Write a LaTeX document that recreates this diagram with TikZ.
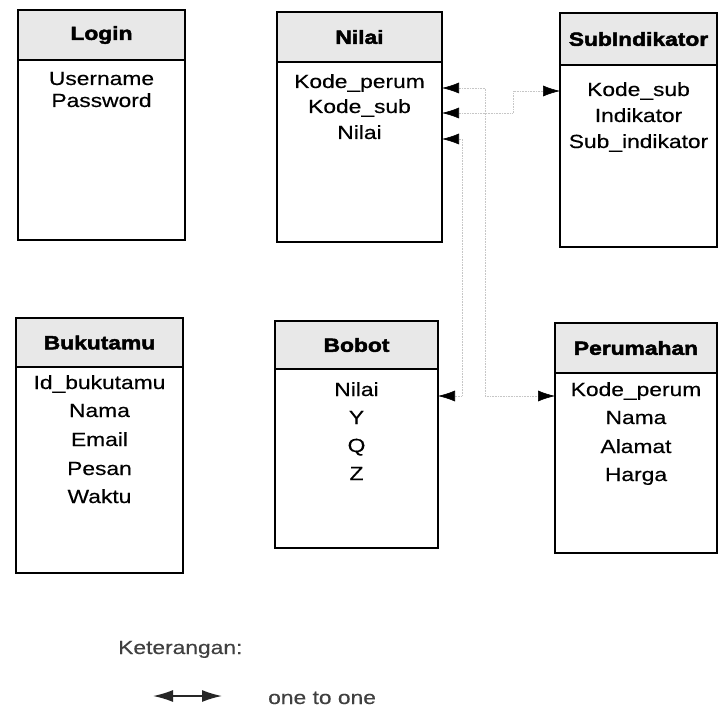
\documentclass[tikz,border=0pt]{standalone}
\usepackage{fontspec}
\setmainfont[FakeStretch=1.2, FakeBold=0.4, BoldFeatures={FakeBold=2.5}]{Liberation Sans}
\usetikzlibrary{arrows.meta}
\begin{document}
\begin{tikzpicture}[x=1pt,y=-1pt,
  every node/.style={font=\fontsize{19}{22}\selectfont},
  ent/.style={draw=black, line width=1.3pt, inner sep=0pt, outer sep=0pt, anchor=north west, fill=white},
  hdr/.style={draw=black, line width=1.3pt, fill=gray!18, inner sep=0pt, outer sep=0pt, anchor=north west, font=\fontsize{19}{22}\selectfont\bfseries},
  attr/.style={anchor=base, inner sep=0pt, outer sep=0pt},
  conn/.style={draw=gray!45, line width=0.6pt, densely dotted},
  tipA/.style={{Latex[length=17pt,width=11pt,color=black]}-{Latex[length=17pt,width=11pt,color=black]}},
  legtxt/.style={anchor=base west, inner sep=0pt, text=black!75}
]
\useasboundingbox (0,0) rectangle (719,708);
\fill[white] (0,0) rectangle (719,708);

% Login
\node[ent, minimum width=167pt, minimum height=230pt] (login) at (18,10) {};
\node[hdr, minimum width=167pt, minimum height=50pt] (loginH) at (18,10) {Login};
\node[attr] (lU) at (101.5,85) {Username};
\node[attr] (lP) at (101.5,107) {Password};

% Nilai
\node[ent, minimum width=165pt, minimum height=230pt] (nilai) at (277,12) {};
\node[hdr, minimum width=165pt, minimum height=50pt] (nilaiH) at (277,12) {Nilai};
\node[attr] (nKP) at (359.5,88) {Kode\_perum};
\node[attr] (nKS) at (359.5,113) {Kode\_sub};
\node[attr] (nN) at (359.5,139) {Nilai};

% SubIndikator
\node[ent, minimum width=157pt, minimum height=234pt] (sub) at (560,13) {};
\node[hdr, minimum width=157pt, minimum height=52pt] (subH) at (560,13) {SubIndikator};
\node[attr] (sKS) at (638.5,96) {Kode\_sub};
\node[attr] (sI) at (638.5,122) {Indikator};
\node[attr] (sSI) at (638.5,148) {Sub\_indikator};

% Bukutamu
\node[ent, minimum width=167pt, minimum height=255pt] (buku) at (16,318) {};
\node[hdr, minimum width=167pt, minimum height=49pt] (bukuH) at (16,318) {Bukutamu};
\node[attr] (bId) at (99.5,389) {Id\_bukutamu};
\node[attr] (bNa) at (99.5,417) {Nama};
\node[attr] (bEm) at (99.5,446) {Email};
\node[attr] (bPe) at (99.5,475) {Pesan};
\node[attr] (bWa) at (99.5,503) {Waktu};

% Bobot
\node[ent, minimum width=163pt, minimum height=227pt] (bobot) at (275,321) {};
\node[hdr, minimum width=163pt, minimum height=48pt] (bobotH) at (275,321) {Bobot};
\node[attr] (oN) at (356.5,396) {Nilai};
\node[attr] (oY) at (356.5,424) {Y};
\node[attr] (oQ) at (356.5,452) {Q};
\node[attr] (oZ) at (356.5,480) {Z};

% Perumahan
\node[ent, minimum width=162pt, minimum height=230pt] (perum) at (555,323) {};
\node[hdr, minimum width=162pt, minimum height=50pt] (perumH) at (555,323) {Perumahan};
\node[attr] (pKP) at (636,396) {Kode\_perum};
\node[attr] (pNa) at (636,424) {Nama};
\node[attr] (pAl) at (636,453) {Alamat};
\node[attr] (pHa) at (636,481) {Harga};

% bend positions of connectors
\coordinate (bendA) at (485,0);
\coordinate (bendB) at (513,0);
\coordinate (bendC) at (462,0);

% connectors
\draw[conn, tipA] (nilai.east |- nKP.base) -- (bendA |- nKP.base) -- (bendA |- pKP.base) -- (perum.west |- pKP.base);
\draw[conn, tipA] (nilai.east |- nKS.base) -- (bendB |- nKS.base) -- (bendB |- sKS.center) -- (sub.west |- sKS.center);
\draw[conn, tipA] (nilai.east |- nN.base) -- (bendC |- nN.base) -- (bendC |- oN.base) -- (bobot.east |- oN.base);

% legend
\node[legtxt] (ket) at (118,654) {Keterangan:};
\coordinate (lg1) at (153,696);
\coordinate (lg2) at (222,696);
\draw[line width=1.6pt, black!85, {Latex[length=20pt,width=12pt]}-{Latex[length=20pt,width=12pt]}] (lg1) -- (lg2);
\node[legtxt] (oto) at (268,704) {one to one};
\end{tikzpicture}
\end{document}
